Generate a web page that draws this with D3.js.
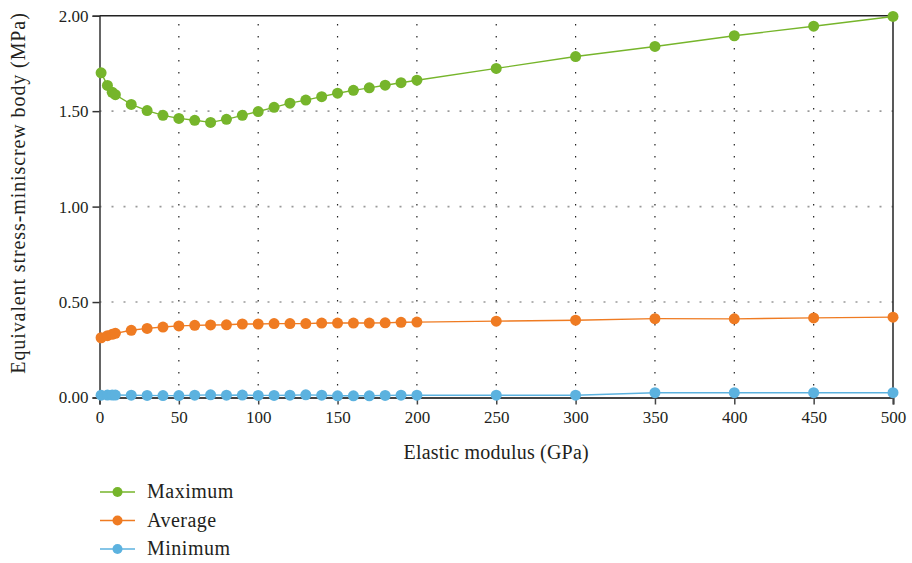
<!DOCTYPE html>
<html><head><meta charset="utf-8">
<script src="https://cdn.jsdelivr.net/npm/d3@7/dist/d3.min.js"></script>
<style>body{margin:0;background:#fff;} svg{display:block;} text{font-family:"Liberation Serif","Times New Roman",serif;fill:#231f20;}</style>
</head><body><svg id="c" width="912" height="563"></svg>
<script>
const modulus = [1,5,8,10,20,30,40,50,60,70,80,90,100,110,120,130,140,150,160,170,180,190,200,250,300,350,400,450,500];
const maximum = [1.701,1.635,1.599,1.586,1.535,1.503,1.478,1.462,1.452,1.441,1.457,1.478,1.498,1.520,1.542,1.558,1.576,1.594,1.609,1.622,1.636,1.649,1.662,1.724,1.786,1.839,1.895,1.945,1.996];
const average = [0.313,0.324,0.331,0.336,0.352,0.362,0.369,0.375,0.378,0.380,0.381,0.385,0.385,0.387,0.387,0.387,0.390,0.390,0.390,0.390,0.391,0.394,0.395,0.400,0.405,0.413,0.412,0.417,0.421];
const minimum = [0.012,0.013,0.013,0.013,0.012,0.011,0.010,0.010,0.012,0.014,0.012,0.013,0.011,0.011,0.012,0.014,0.012,0.009,0.009,0.009,0.011,0.012,0.012,0.012,0.012,0.025,0.025,0.025,0.025];
const seriesNames = ["Maximum","Average","Minimum"];
const seriesColors = ["#76b52b","#ef7b22","#5cb2df"];
const xTicks = [0,50,100,150,200,250,300,350,400,450,500];
const yTicks = [0,0.5,1,1.5,2];
const xTitle = "Elastic modulus (GPa)";
const yTitle = "Equivalent stress-miniscrew body (MPa)";

const svg = d3.select("#c");
const L=99.5, R=893, T=15.7, B=397.5;
const x = d3.scaleLinear().domain([0,500]).range([L,R]);
const y = d3.scaleLinear().domain([0,2]).range([B,T]);

// grid
svg.append("g").selectAll("line").data([0.5,1,1.5]).join("line")
  .attr("x1",L).attr("x2",R).attr("y1",d=>y(d)).attr("y2",d=>y(d))
  .attr("stroke","#9a9a9a").attr("stroke-width",1.6).attr("stroke-dasharray","2,10");
svg.append("g").selectAll("line").data(xTicks.filter(d=>d>0&&d<500)).join("line")
  .attr("x1",d=>x(d)).attr("x2",d=>x(d)).attr("y1",B).attr("y2",T)
  .attr("stroke","#222").attr("stroke-width",1.2).attr("stroke-dasharray","1.5,10.5");

// axes
const xAxis = svg.append("g").attr("transform",`translate(0,${B})`)
  .call(d3.axisBottom(x).tickValues(xTicks).tickSize(7).tickPadding(6).tickFormat(d3.format("d")));
xAxis.select(".domain").attr("stroke","#444").attr("stroke-width",2);
xAxis.selectAll(".tick line").attr("stroke","#444").attr("stroke-width",1.5);
xAxis.selectAll("text").attr("font-size",17).attr("font-family","Liberation Serif").attr("fill","#231f20");

const yAxis = svg.append("g").attr("transform",`translate(${L},0)`)
  .call(d3.axisLeft(y).tickValues(yTicks).tickSize(7).tickPadding(4).tickFormat(d3.format(".2f")));
yAxis.select(".domain").attr("stroke","#333").attr("stroke-width",1.5);
yAxis.selectAll(".tick line").attr("stroke","#333").attr("stroke-width",1.5);
yAxis.selectAll("text").attr("font-size",17).attr("font-family","Liberation Serif").attr("fill","#231f20");

// frame top/right
svg.append("line").attr("x1",L).attr("x2",R).attr("y1",T).attr("y2",T).attr("stroke","#222").attr("stroke-width",1.5);
svg.append("line").attr("x1",R).attr("x2",R).attr("y1",T).attr("y2",B).attr("stroke","#222").attr("stroke-width",1.5);

// titles
svg.append("text").attr("x",(L+R)/2).attr("y",459).attr("text-anchor","middle").attr("font-size",20).attr("letter-spacing",0.2).text(xTitle);
svg.append("text").attr("transform",`translate(25,193) rotate(-90)`).attr("text-anchor","middle").attr("font-size",20).attr("letter-spacing",0.9).text(yTitle);

// series
const data = [maximum, average, minimum];
const line = d3.line().x((d,i)=>x(modulus[i])).y(d=>y(d));
data.forEach((vals,k)=>{
  const g = svg.append("g");
  g.append("path").datum(vals).attr("d",line).attr("fill","none").attr("stroke",seriesColors[k]).attr("stroke-width",1.4);
  g.selectAll("circle").data(vals).join("circle")
    .attr("cx",(d,i)=>x(modulus[i])).attr("cy",d=>y(d)).attr("r",5.5).attr("fill",seriesColors[k]);
});

// legend
const leg = svg.append("g");
seriesNames.forEach((n,k)=>{
  const yy = 492 + k*28.5;
  leg.append("line").attr("x1",100).attr("x2",135).attr("y1",yy).attr("y2",yy).attr("stroke",seriesColors[k]).attr("stroke-width",1.6);
  leg.append("circle").attr("cx",117.5).attr("cy",yy).attr("r",5).attr("fill",seriesColors[k]);
  leg.append("text").attr("x",147).attr("y",yy+6).attr("font-size",20).attr("letter-spacing",0.5).text(n);
});
</script></body></html>
